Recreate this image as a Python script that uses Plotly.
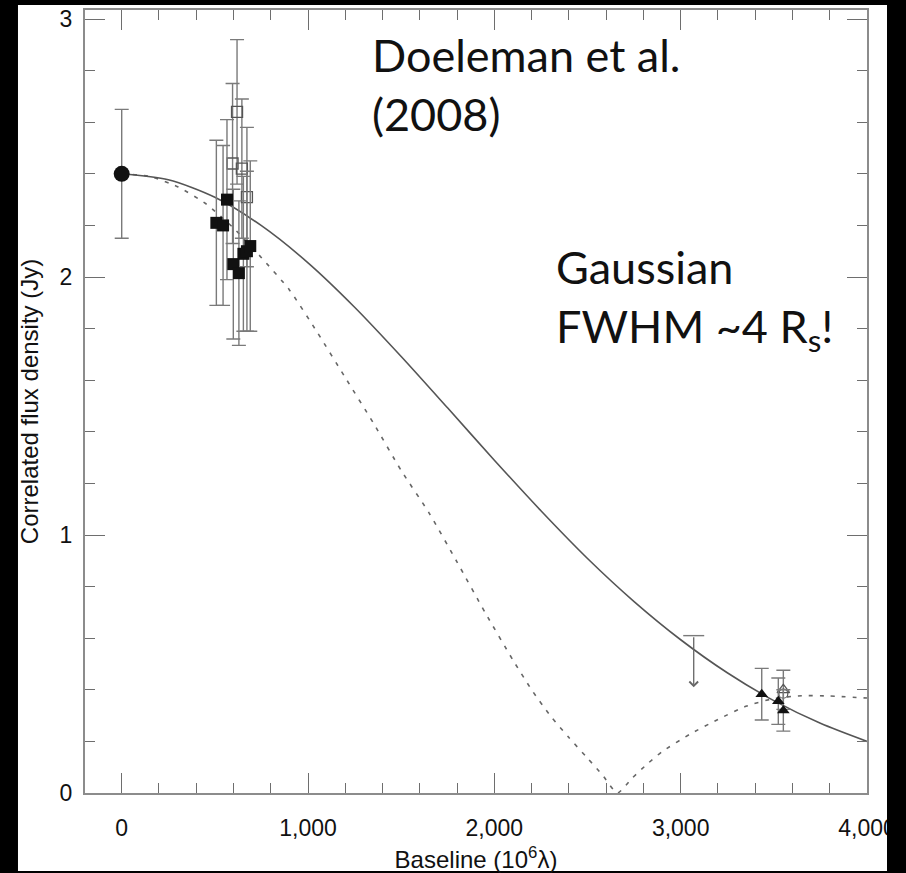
import plotly.graph_objects as go

# ---------------- data ----------------
# Gaussian model (solid line)
gauss_u = [0, 250, 500, 750, 1000, 1250, 1500, 1750, 2000, 2250, 2500, 2750,
           3000, 3250, 3500, 3750, 4000]
gauss_v = [2.400, 2.377, 2.309, 2.199, 2.055, 1.883, 1.692, 1.492, 1.290, 1.094,
           0.909, 0.742, 0.594, 0.466, 0.358, 0.270, 0.200]

# Ring model (dashed line)
ring_u = [0, 150, 300, 450, 600, 750, 900, 1050, 1200, 1350, 1500, 1650, 1800,
          1950, 2100, 2200, 2300, 2400, 2500, 2580, 2660, 2740, 2820, 2900, 3050,
          3200, 3350, 3500, 3650, 3800, 4000]
ring_v = [2.40, 2.39, 2.35, 2.285, 2.19, 2.075, 1.95, 1.785, 1.61, 1.435, 1.25,
          1.085, 0.895, 0.70, 0.515, 0.40, 0.30, 0.215, 0.135, 0.07, 0.0, 0.058,
          0.112, 0.16, 0.228, 0.285, 0.336, 0.366, 0.377, 0.376, 0.368]

# Zero-baseline total flux (filled circle)
circle_u = [0]
circle_v = [2.40]
circle_err = [0.25]

# Filled squares
fsq_u = [508, 544, 565, 599, 629, 653, 672, 690]
fsq_v = [2.21, 2.20, 2.30, 2.05, 2.015, 2.09, 2.10, 2.12]
fsq_err = [0.32, 0.31, 0.31, 0.29, 0.28, 0.30, 0.31, 0.33]

# Open squares
osq_u = [595, 619, 645, 672]
osq_v = [2.44, 2.64, 2.42, 2.31]
osq_err = [0.31, 0.28, 0.27, 0.27]

# Filled triangles (long baselines)
ftri_u = [3435, 3524, 3551]
ftri_v = [0.383, 0.356, 0.32]
ftri_err = [0.10, 0.09, 0.08]

# Open triangle / open circle (long baselines)
otri_u = [3551]
otri_v = [0.40]
otri_err = [0.076]
ocir_u = [3551]
ocir_v = [0.385]

# Upper limit
limit_u = [3070]
limit_v = [0.61]
limit_tip = [0.41]

# Axis ticks
x_ticks = [0, 1000, 2000, 3000, 4000]
x_ticktext = ["0", "1,000", "2,000", "3,000", "4,000"]
y_ticks = [0, 1, 2, 3]
y_ticktext = ["0", "1", "2", "3"]

# ---------------- figure ----------------
BAR = "#7a7a7a"
AX = "#8c8c8c"

fig = go.Figure()

fig.add_trace(go.Scatter(x=ring_u, y=ring_v, mode="lines",
                         line=dict(color="#666666", width=1.6, dash="4px,7px", shape="spline", smoothing=0.6),
                         hoverinfo="skip", showlegend=False))
fig.add_trace(go.Scatter(x=gauss_u, y=gauss_v, mode="lines",
                         line=dict(color="#555555", width=1.6, shape="spline", smoothing=0.8),
                         hoverinfo="skip", showlegend=False))

errstyle = dict(type="data", color=BAR, thickness=1.4, width=7)

fig.add_trace(go.Scatter(x=circle_u, y=circle_v, mode="markers",
                         marker=dict(symbol="circle", size=16, color="#111111"),
                         error_y=dict(array=circle_err, **errstyle), showlegend=False))
fig.add_trace(go.Scatter(x=osq_u, y=osq_v, mode="markers",
                         marker=dict(symbol="square-open", size=11, color="#555555", line=dict(width=1.3)),
                         error_y=dict(array=osq_err, **errstyle), showlegend=False))
fig.add_trace(go.Scatter(x=fsq_u, y=fsq_v, mode="markers",
                         marker=dict(symbol="square", size=12, color="#111111"),
                         error_y=dict(array=fsq_err, **errstyle), showlegend=False))
fig.add_trace(go.Scatter(x=otri_u, y=otri_v, mode="markers",
                         marker=dict(symbol="triangle-up-open", size=11, color="#555555", line=dict(width=1.2)),
                         error_y=dict(array=otri_err, **errstyle), showlegend=False))
fig.add_trace(go.Scatter(x=ocir_u, y=ocir_v, mode="markers",
                         marker=dict(symbol="circle-open", size=9, color="#555555", line=dict(width=1.2)),
                         showlegend=False))
fig.add_trace(go.Scatter(x=ftri_u, y=ftri_v, mode="markers",
                         marker=dict(symbol="triangle-up", size=11, color="#111111"),
                         error_y=dict(array=ftri_err, **errstyle), showlegend=False))
# cap of the upper limit
fig.add_trace(go.Scatter(x=limit_u, y=limit_v, mode="markers",
                         marker=dict(symbol="line-ew", size=15, line=dict(color=BAR, width=1.4)),
                         showlegend=False))
for u, v, t in zip(limit_u, limit_v, limit_tip):
    fig.add_annotation(x=u, y=t, ax=u, ay=v, xref="x", yref="y", axref="x", ayref="y",
                       text="", showarrow=True, arrowhead=4, arrowsize=1.3, arrowwidth=1.3,
                       arrowcolor="#666666", standoff=0)

tickfont = dict(family="Liberation Sans, Arial, sans-serif", size=23, color="#111111")
titlefont = dict(family="Liberation Sans, Arial, sans-serif", size=24, color="#111111")

fig.update_xaxes(range=[-197, 4000], showline=True, linecolor=AX, linewidth=2,
                 mirror="allticks", ticks="inside", ticklen=20, tickwidth=1.4, tickcolor="#6e6e6e",
                 tickvals=x_ticks, ticktext=x_ticktext, tickfont=tickfont,
                 ticklabelstandoff=13,
                 minor=dict(ticks="inside", ticklen=10, dtick=200, tick0=0, tickwidth=1.4,
                            tickcolor="#6e6e6e", showgrid=False),
                 showgrid=False, zeroline=False,
                 title=dict(text="Baseline (10<sup>6</sup>λ)", font=titlefont, standoff=13))
fig.update_yaxes(range=[0, 3.035], showline=True, linecolor=AX, linewidth=2,
                 mirror="allticks", ticks="inside", ticklen=20, tickwidth=1.4, tickcolor="#6e6e6e",
                 tickvals=y_ticks, ticktext=y_ticktext, tickfont=tickfont,
                 ticklabelstandoff=6,
                 minor=dict(ticks="inside", ticklen=10, dtick=0.2, tick0=0, tickwidth=1.4,
                            tickcolor="#6e6e6e", showgrid=False),
                 showgrid=False, zeroline=False,
                 title=dict(text="Correlated flux density (Jy)", font=titlefont, standoff=14))

annfont = dict(family="Lato, Open Sans, sans-serif", size=45, color="#111111")
fig.add_annotation(x=0.365, y=0.905, xref="paper", yref="paper", xanchor="left", yanchor="middle",
                   text="Doeleman et al.<br>(2008)", showarrow=False, align="left", font=annfont)
fig.add_annotation(x=0.600, y=0.630, xref="paper", yref="paper", xanchor="left", yanchor="middle",
                   text="Gaussian<br>FWHM ~4 R<sub>s</sub>!", showarrow=False, align="left", font=annfont)

# white page panel on black background, and the black edge at the right
fig.add_shape(type="rect", xref="paper", yref="paper", x0=-0.0857, x1=1.0256, y0=-0.0996, y1=1.0064,
              fillcolor="white", line=dict(width=0), layer="below")
fig.add_shape(type="rect", xref="paper", yref="paper", x0=1.0256, x1=1.2, y0=-0.2, y1=1.2,
              fillcolor="black", line=dict(width=0), layer="above")

fig.update_layout(width=906, height=873, paper_bgcolor="black", plot_bgcolor="white",
                  margin=dict(l=85, r=39, t=10, b=80, autoexpand=False),
                  showlegend=False)

fig.write_html("out.html")
